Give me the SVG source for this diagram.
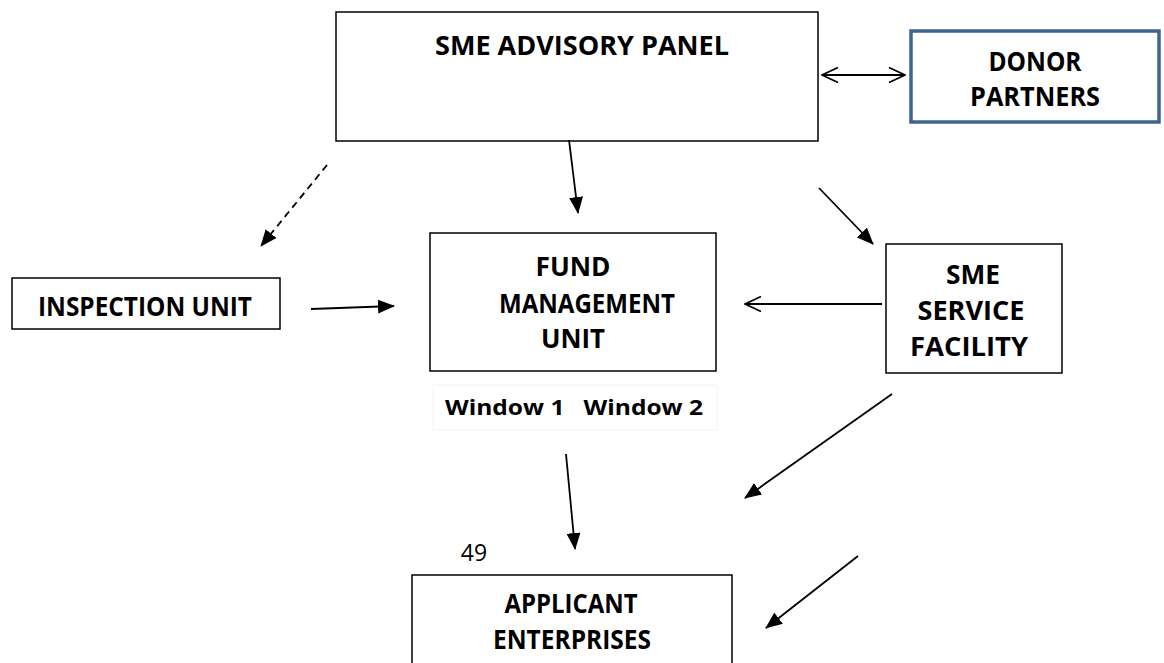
<svg xmlns="http://www.w3.org/2000/svg" width="1164" height="663" viewBox="0 0 1164 663">
<style>
.box{fill:#fff;stroke:#000;stroke-width:1.5}
.t{font-family:"Open Sans",Lato,sans-serif;font-weight:bold;font-size:26px;fill:#000;text-anchor:middle}
.c{stroke:#000;stroke-width:1.8;fill:none}
</style>
<defs>
<marker id="fa" viewBox="0 0 17 14" refX="16" refY="7" markerWidth="17" markerHeight="14" markerUnits="userSpaceOnUse" orient="auto"><path d="M0,0 L17,7 L0,14 Z" fill="#000"/></marker>
<marker id="oa" viewBox="0 0 18 18" refX="17" refY="9" markerWidth="18" markerHeight="18" markerUnits="userSpaceOnUse" orient="auto-start-reverse"><path d="M1,1.5 L17,9 L1,16.5" fill="none" stroke="#000" stroke-width="1.6"/></marker>
</defs>
<rect width="1164" height="663" fill="#fff"/>
<g id="advisory"><rect class="box" x="336" y="12" width="482" height="129"/><text class="t" x="582" y="55" textLength="294" lengthAdjust="spacingAndGlyphs">SME ADVISORY PANEL</text></g>
<g id="donor"><rect x="911" y="31" width="248" height="91" fill="#fff" stroke="#41638F" stroke-width="3.5"/><text class="t" x="1035" y="71" textLength="93" lengthAdjust="spacingAndGlyphs">DONOR</text><text class="t" x="1035" y="106" textLength="130" lengthAdjust="spacingAndGlyphs">PARTNERS</text></g>
<g id="fmu"><rect class="box" x="430" y="233" width="286" height="138"/><text class="t" x="573" y="276" textLength="75" lengthAdjust="spacingAndGlyphs">FUND</text><text class="t" x="587" y="313" textLength="176" lengthAdjust="spacingAndGlyphs">MANAGEMENT</text><text class="t" x="573" y="348" textLength="64" lengthAdjust="spacingAndGlyphs">UNIT</text></g>
<g id="windows"><rect x="433" y="385" width="284" height="45" fill="none" stroke="#f4f4f4" stroke-width="1"/><text class="t" x="574" y="415" style="font-size:22px" xml:space="preserve" textLength="258" lengthAdjust="spacingAndGlyphs">Window 1   Window 2</text></g>
<g id="inspection"><rect class="box" x="12" y="278" width="268" height="51"/><text class="t" x="145" y="316" textLength="214" lengthAdjust="spacingAndGlyphs">INSPECTION UNIT</text></g>
<g id="ssf"><rect class="box" x="886" y="244" width="176" height="129"/><text class="t" x="973" y="284" textLength="54" lengthAdjust="spacingAndGlyphs">SME</text><text class="t" x="971" y="320" textLength="107" lengthAdjust="spacingAndGlyphs">SERVICE</text><text class="t" x="969" y="356" textLength="118" lengthAdjust="spacingAndGlyphs">FACILITY</text></g>
<g id="applicant"><rect class="box" x="412" y="575" width="320" height="100"/><text class="t" x="571" y="613" textLength="133" lengthAdjust="spacingAndGlyphs">APPLICANT</text><text class="t" x="572" y="649" textLength="158" lengthAdjust="spacingAndGlyphs">ENTERPRISES</text></g>
<g id="page"><text x="474" y="561" style="font-family:'Open Sans',Lato,sans-serif;font-size:23px;text-anchor:middle">49</text></g>
<g id="connectors">
<line class="c" x1="822" y1="75" x2="905" y2="75" marker-start="url(#oa)" marker-end="url(#oa)"/>
<line class="c" x1="569" y1="140" x2="578" y2="213" marker-end="url(#fa)"/>
<line class="c" x1="327" y1="165" x2="261" y2="246" stroke-dasharray="7,5" marker-end="url(#fa)"/>
<line class="c" x1="819" y1="188" x2="873" y2="244" marker-end="url(#fa)"/>
<line class="c" x1="311" y1="309" x2="394" y2="306" marker-end="url(#fa)"/>
<line class="c" x1="882" y1="304" x2="745" y2="304" marker-end="url(#oa)"/>
<line class="c" x1="892" y1="394" x2="745" y2="498" marker-end="url(#fa)"/>
<line class="c" x1="566" y1="454" x2="575" y2="549" marker-end="url(#fa)"/>
<line class="c" x1="858" y1="556" x2="766" y2="628" marker-end="url(#fa)"/>
</g>
</svg>
